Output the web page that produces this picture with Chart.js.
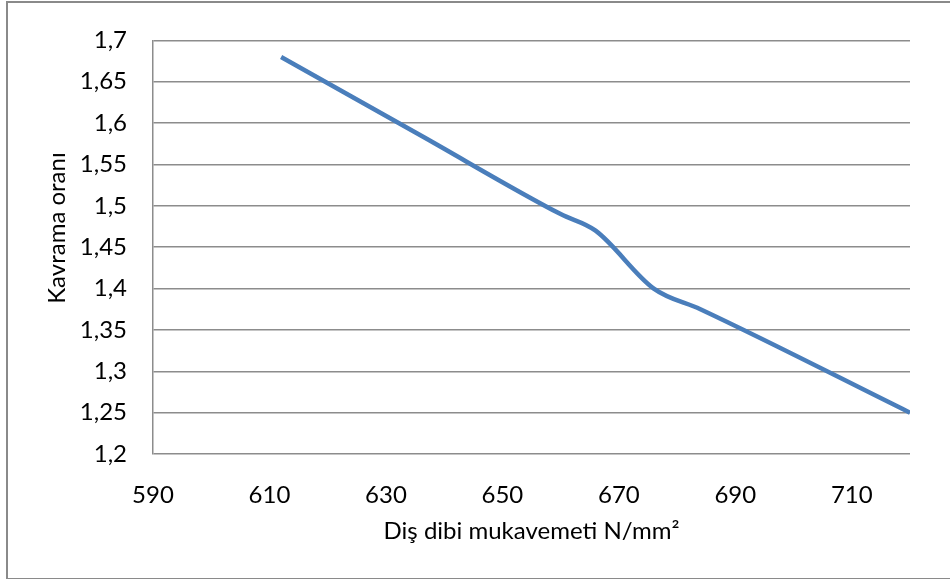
<!DOCTYPE html>
<html>
<head>
<meta charset="utf-8">
<script src="https://cdn.jsdelivr.net/npm/chart.js@4"></script>
<style>
  html, body { margin: 0; padding: 0; background: #fff; }
  #wrap { position: relative; width: 950px; height: 579px; }
  #frame { position: absolute; left: 6px; top: 1px; width: 960px; height: 575px; border: 2px solid #8a8a8a; box-sizing: content-box; }
  canvas { position: absolute; left: 0; top: 0; }
</style>
</head>
<body>
<div id="wrap">
  <div id="frame"></div>
  <canvas id="graphique" width="950" height="579"></canvas>
</div>
<script>
// valeurs
const xValues = [612, 636, 660, 666, 676, 684, 720];
const yValues = [1.68, 1.585, 1.49, 1.47, 1.40, 1.375, 1.25];
const xTicks = [590, 610, 630, 650, 670, 690, 710];
const yTicks = [1.2, 1.25, 1.3, 1.35, 1.4, 1.45, 1.5, 1.55, 1.6, 1.65, 1.7];
const xTitle = 'Diş dibi mukavemeti N/mm²';
const yTitle = 'Kavrama oranı';

const police = { family: 'Lato, "Open Sans", sans-serif', size: 24 };
const gris = '#8c8c8c';

const points = xValues.map((x, i) => ({ x: x, y: yValues[i] }));

// titre vertical un peu au-dessus du centre, comme dans Excel
const titreY = {
    id: 'titreY',
    afterDraw(chart) {
        const ctx = chart.ctx;
        ctx.save();
        ctx.translate(57, 228);
        ctx.rotate(-Math.PI / 2);
        ctx.font = '24px ' + police.family;
        ctx.fillStyle = '#000';
        ctx.textAlign = 'center';
        ctx.textBaseline = 'middle';
        ctx.fillText(yTitle, 0, 0);
        ctx.restore();
    }
};

new Chart(document.getElementById('graphique').getContext('2d'), {
    type: 'line',
    data: {
        datasets: [{
            data: points,
            borderColor: '#4a7ebb',
            borderWidth: 4.5,
            pointRadius: 0,
            cubicInterpolationMode: 'monotone',
            fill: false
        }]
    },
    options: {
        responsive: false,
        animation: false,
        layout: { padding: { left: 30, top: 32, right: 40, bottom: 0 } },
        plugins: { legend: { display: false }, tooltip: { enabled: false } },
        scales: {
            x: {
                type: 'linear',
                min: 590,
                max: 720,
                afterBuildTicks: axis => { axis.ticks = xTicks.map(v => ({ value: v })); },
                afterFit: axis => { axis.height = 125; },
                grid: { display: false },
                border: { display: false },
                ticks: { color: '#000', font: police, padding: 19, maxRotation: 0 },
                title: { display: true, text: xTitle, color: '#000', font: police, padding: { top: 0, bottom: 33 } }
            },
            y: {
                min: 1.2,
                max: 1.7,
                afterBuildTicks: axis => { axis.ticks = yTicks.map(v => ({ value: v })); },
                afterFit: axis => { axis.width = 153 - 30; },
                grid: { color: gris, lineWidth: 1.5, drawTicks: false },
                border: { display: true, color: gris, width: 1.5 },
                ticks: {
                    color: '#000',
                    font: police,
                    padding: 26,
                    callback: v => String(Number(v.toFixed(2))).replace('.', ',')
                },
                title: { display: false }
            }
        }
    },
    plugins: [titreY]
});
</script>
</body>
</html>
